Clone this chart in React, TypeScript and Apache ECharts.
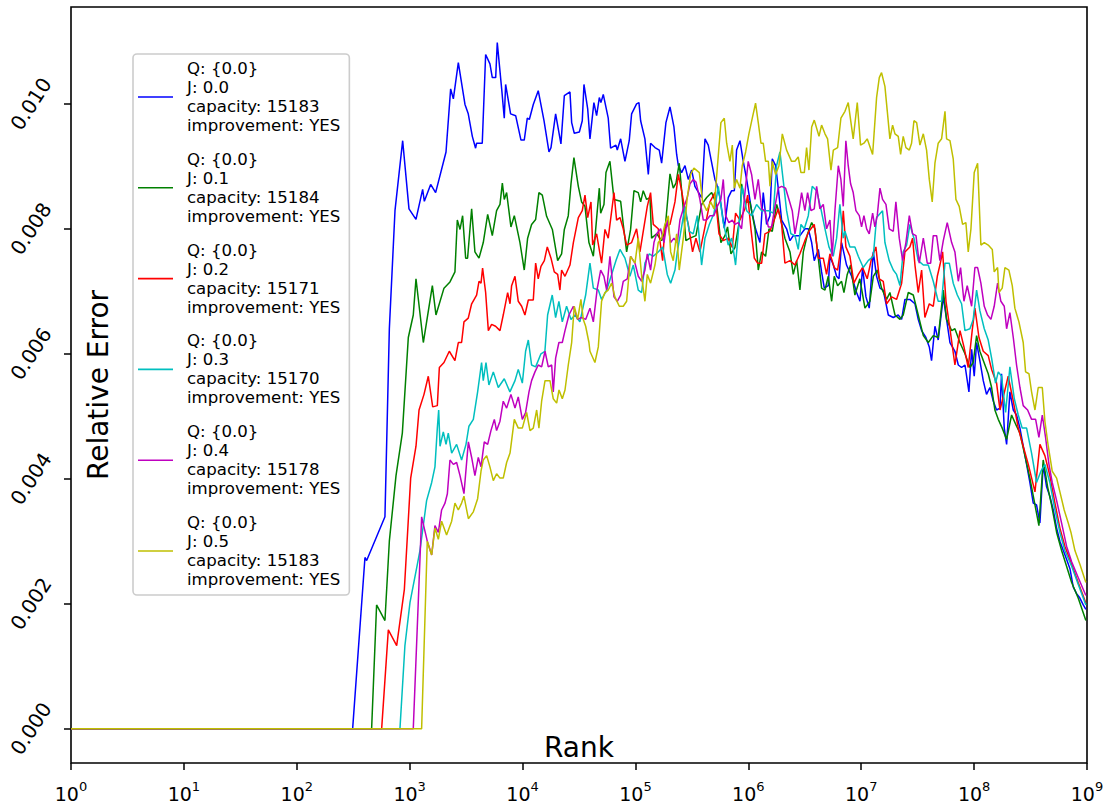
import React, { useEffect, useRef } from 'react';
import * as echarts from 'echarts';

// Legend fields
const qLabels = ['{0.0}', '{0.0}', '{0.0}', '{0.0}', '{0.0}', '{0.0}'];
const jValues = [0.0, 0.1, 0.2, 0.3, 0.4, 0.5];
const capacities = [15183, 15184, 15171, 15170, 15178, 15183];
const improvements = ['YES', 'YES', 'YES', 'YES', 'YES', 'YES'];
const colors = ['#0000ff', '#008000', '#ff0000', '#00bfbf', '#bf00bf', '#bfbf00'];

// Axis ticks
const xTickExponents = [0, 1, 2, 3, 4, 5, 6, 7, 8, 9];
const yTickValues = [0, 0.002, 0.004, 0.006, 0.008, 0.01];

// Each point: [log10(rank), relative error x 1000]; error is 0 from rank 1 to the first point
const seriesJ00: number[][] = [[2.495,0],[2.604,2.74],[2.619,2.69],[2.781,3.39],[2.820,6.40],[2.870,8.29],[2.938,9.41],[2.994,8.32],[3.056,8.15],[3.115,8.63],[3.130,8.44],[3.186,8.71],[3.230,8.58],[3.322,9.23],[3.363,10.24],[3.387,10.08],[3.431,10.66],[3.490,9.99],[3.519,9.84],[3.555,9.48],[3.584,9.29],[3.593,9.37],[3.643,9.37],[3.673,10.79],[3.711,10.64],[3.732,10.42],[3.762,10.42],[3.776,10.98],[3.815,10.24],[3.838,9.77],[3.850,10.31],[3.894,9.84],[3.939,9.81],[3.986,9.42],[4.015,9.42],[4.042,9.77],[4.060,9.75],[4.095,9.99],[4.139,10.21],[4.190,9.73],[4.234,9.23],[4.252,9.30],[4.293,9.84],[4.340,9.36],[4.370,10.13],[4.420,10.19],[4.435,9.70],[4.458,9.53],[4.503,9.55],[4.529,9.73],[4.544,10.31],[4.577,9.92],[4.597,9.44],[4.632,10.02],[4.656,9.81],[4.680,10.10],[4.694,10.02],[4.715,10.15],[4.759,9.77],[4.780,9.29],[4.827,9.34],[4.839,9.26],[4.869,9.44],[4.907,9.08],[4.945,9.41],[4.966,9.84],[5.010,10.00],[5.031,10.02],[5.046,9.73],[5.084,9.44],[5.114,8.87],[5.134,9.37],[5.173,9.30],[5.211,9.26],[5.232,9.05],[5.270,9.70],[5.306,9.95],[5.341,9.63],[5.365,9.19],[5.380,9.01],[5.409,8.90],[5.439,9.01],[5.468,8.79],[5.498,8.94],[5.527,8.68],[5.586,8.50],[5.616,9.44],[5.645,9.34],[5.704,8.79],[5.719,8.72],[5.749,8.50],[5.787,8.01],[5.822,8.50],[5.852,8.61],[5.876,8.61],[5.896,9.26],[5.926,9.41],[5.955,9.08],[5.985,8.79],[6.029,8.29],[6.064,8.00],[6.103,7.78],[6.132,8.58],[6.162,8.07],[6.191,8.21],[6.212,9.12],[6.242,9.01],[6.265,8.65],[6.295,8.14],[6.339,8.00],[6.369,7.81],[6.398,7.89],[6.457,7.89],[6.502,8.00],[6.531,8.00],[6.561,7.78],[6.584,7.49],[6.620,7.67],[6.649,7.31],[6.673,7.05],[6.708,7.09],[6.723,7.56],[6.753,7.42],[6.782,7.24],[6.803,7.20],[6.826,7.78],[6.870,7.42],[6.915,7.24],[6.959,6.98],[6.989,6.84],[7.012,7.38],[7.042,6.91],[7.071,6.73],[7.107,7.63],[7.136,7.24],[7.166,7.05],[7.195,7.02],[7.240,6.62],[7.284,6.58],[7.328,6.62],[7.358,6.55],[7.387,6.87],[7.431,6.87],[7.476,6.80],[7.505,6.55],[7.535,6.37],[7.573,6.26],[7.603,6.11],[7.623,5.89],[7.653,6.44],[7.682,6.22],[7.727,6.91],[7.756,6.55],[7.786,6.18],[7.830,6.04],[7.860,5.82],[7.889,5.78],[7.919,5.82],[7.954,5.39],[7.978,6.07],[8.001,5.64],[8.022,6.18],[8.051,5.89],[8.081,5.57],[8.110,5.35],[8.140,5.46],[8.170,5.24],[8.199,5.10],[8.229,5.13],[8.243,5.68],[8.267,4.81],[8.288,4.55],[8.317,5.39],[8.347,5.10],[8.376,5.02],[8.406,4.81],[8.435,4.52],[8.465,4.23],[8.494,3.94],[8.524,3.61],[8.553,3.58],[8.583,3.29],[8.612,4.23],[8.642,3.87],[8.671,3.72],[8.701,3.50],[8.731,3.21],[8.760,3.00],[8.790,2.85],[8.819,2.71],[8.849,2.56],[8.878,2.27],[8.908,2.16],[8.937,2.09],[8.967,1.98],[8.990,1.91]];

const seriesJ01: number[][] = [[2.663,0],[2.707,1.98],[2.781,1.73],[2.820,3.00],[2.879,4.05],[2.935,4.73],[2.988,6.26],[3.032,6.62],[3.056,7.20],[3.121,6.18],[3.201,7.09],[3.233,6.62],[3.304,7.05],[3.357,7.15],[3.401,7.31],[3.422,8.14],[3.446,7.99],[3.469,8.21],[3.496,7.53],[3.513,7.53],[3.549,8.32],[3.578,7.63],[3.614,7.53],[3.652,7.78],[3.691,8.23],[3.732,7.89],[3.770,8.29],[3.800,8.39],[3.821,8.73],[3.838,8.47],[3.859,8.58],[3.897,8.03],[3.927,8.21],[3.977,7.78],[4.015,7.34],[4.045,7.85],[4.080,8.07],[4.116,8.15],[4.145,8.58],[4.175,8.54],[4.213,8.20],[4.264,7.99],[4.311,7.49],[4.346,7.60],[4.370,7.99],[4.405,8.21],[4.429,8.72],[4.455,9.14],[4.494,8.68],[4.523,8.43],[4.553,8.36],[4.588,7.78],[4.627,7.56],[4.662,8.29],[4.680,8.65],[4.692,8.25],[4.721,8.39],[4.739,8.90],[4.774,9.08],[4.810,8.47],[4.869,8.44],[4.892,8.07],[4.922,7.63],[4.957,7.99],[4.987,8.61],[5.025,8.58],[5.046,8.43],[5.069,8.61],[5.099,8.47],[5.129,8.50],[5.143,7.85],[5.188,7.92],[5.232,7.81],[5.261,7.96],[5.306,8.88],[5.335,8.65],[5.359,8.73],[5.388,9.05],[5.418,8.43],[5.447,7.81],[5.483,7.85],[5.536,7.89],[5.586,8.39],[5.631,8.50],[5.675,8.58],[5.719,8.39],[5.757,7.78],[5.793,7.89],[5.816,8.03],[5.846,7.60],[5.881,7.70],[5.926,8.18],[5.940,8.72],[5.970,8.43],[6.014,8.43],[6.059,8.00],[6.088,7.34],[6.118,7.63],[6.153,7.56],[6.183,8.00],[6.212,7.96],[6.251,8.39],[6.280,8.21],[6.324,7.85],[6.369,7.63],[6.398,7.27],[6.428,7.49],[6.457,7.02],[6.487,7.63],[6.525,7.92],[6.561,8.10],[6.590,8.00],[6.620,7.53],[6.649,7.05],[6.679,7.02],[6.708,7.24],[6.738,6.84],[6.761,7.24],[6.791,7.09],[6.826,7.16],[6.847,6.98],[6.876,7.27],[6.906,7.42],[6.944,6.94],[6.988,7.20],[7.033,6.73],[7.077,6.84],[7.107,7.24],[7.142,7.34],[7.180,7.05],[7.225,6.87],[7.254,6.98],[7.299,6.62],[7.343,6.55],[7.372,6.62],[7.417,6.98],[7.461,6.94],[7.505,6.62],[7.550,6.29],[7.594,6.18],[7.638,6.29],[7.682,6.26],[7.727,7.02],[7.756,6.55],[7.801,6.37],[7.830,6.40],[7.874,6.18],[7.919,6.00],[7.963,5.78],[7.992,5.86],[8.022,6.29],[8.051,6.04],[8.096,5.82],[8.125,5.68],[8.155,5.46],[8.184,5.10],[8.214,4.95],[8.249,4.81],[8.288,4.63],[8.332,5.02],[8.376,4.84],[8.406,4.73],[8.450,4.37],[8.494,4.01],[8.539,3.58],[8.574,3.25],[8.612,4.30],[8.651,3.87],[8.686,3.58],[8.731,3.14],[8.775,2.85],[8.819,2.60],[8.864,2.34],[8.922,2.09],[8.990,1.73]];

const seriesJ02: number[][] = [[2.752,0],[2.811,1.58],[2.885,1.33],[2.953,2.23],[3.009,4.01],[3.056,4.52],[3.083,5.10],[3.127,5.35],[3.165,5.64],[3.204,5.15],[3.245,5.17],[3.263,5.78],[3.304,5.86],[3.351,6.04],[3.401,5.89],[3.431,6.18],[3.460,6.18],[3.481,6.51],[3.519,6.57],[3.549,6.80],[3.593,6.94],[3.614,7.16],[3.632,7.13],[3.646,7.37],[3.673,6.98],[3.697,6.37],[3.726,6.47],[3.761,6.44],[3.800,6.37],[3.829,6.62],[3.868,6.98],[3.889,6.80],[3.903,7.09],[3.933,7.24],[3.962,6.84],[3.992,6.76],[4.021,6.62],[4.051,6.86],[4.095,6.86],[4.116,7.45],[4.139,7.20],[4.163,7.40],[4.193,7.49],[4.219,7.71],[4.252,7.53],[4.281,7.31],[4.311,7.27],[4.331,7.02],[4.346,7.34],[4.376,7.24],[4.420,7.42],[4.450,7.78],[4.494,8.18],[4.529,8.29],[4.553,8.54],[4.577,8.18],[4.606,8.43],[4.621,7.74],[4.656,7.92],[4.700,7.45],[4.730,7.99],[4.759,7.85],[4.810,8.58],[4.833,8.14],[4.863,8.18],[4.892,8.00],[4.922,7.74],[4.966,7.78],[5.010,8.00],[5.040,7.63],[5.069,7.96],[5.105,8.36],[5.134,8.58],[5.158,8.07],[5.202,8.00],[5.241,7.49],[5.261,8.03],[5.306,8.07],[5.350,8.43],[5.380,8.87],[5.409,8.61],[5.439,8.29],[5.468,8.07],[5.506,7.63],[5.536,7.85],[5.571,7.63],[5.616,8.03],[5.660,8.43],[5.704,8.58],[5.740,7.92],[5.778,7.81],[5.822,7.85],[5.858,7.70],[5.887,8.25],[5.926,8.14],[5.970,8.32],[5.994,8.54],[6.023,8.00],[6.053,7.53],[6.082,7.45],[6.118,7.45],[6.147,7.92],[6.191,7.96],[6.221,8.10],[6.265,8.32],[6.295,8.07],[6.324,7.45],[6.369,7.49],[6.413,7.42],[6.457,7.60],[6.501,7.81],[6.537,7.96],[6.584,8.07],[6.620,7.53],[6.664,7.53],[6.693,7.27],[6.723,7.60],[6.761,7.38],[6.791,7.34],[6.820,7.71],[6.841,8.29],[6.864,7.71],[6.900,7.56],[6.935,7.13],[6.974,7.27],[7.012,7.38],[7.053,7.20],[7.092,7.53],[7.130,7.71],[7.160,7.20],[7.195,7.16],[7.225,6.80],[7.269,6.91],[7.313,6.87],[7.358,7.13],[7.387,7.63],[7.431,7.71],[7.455,7.85],[7.476,7.42],[7.505,6.98],[7.535,7.34],[7.564,6.58],[7.603,6.80],[7.638,6.76],[7.674,7.24],[7.697,7.42],[7.721,7.63],[7.751,6.84],[7.786,6.40],[7.830,5.82],[7.875,6.37],[7.910,6.11],[7.948,5.78],[7.983,6.37],[8.007,6.73],[8.043,6.26],[8.081,6.04],[8.125,5.97],[8.155,5.75],[8.199,5.53],[8.229,5.10],[8.273,5.42],[8.302,5.64],[8.347,5.24],[8.391,4.81],[8.435,4.52],[8.480,4.23],[8.539,3.79],[8.583,4.55],[8.627,4.37],[8.671,4.05],[8.716,3.61],[8.760,3.21],[8.804,2.92],[8.864,2.63],[8.922,2.34],[8.990,2.01]];

const seriesJ03: number[][] = [[2.914,0],[2.958,1.33],[3.003,2.02],[3.068,2.63],[3.091,2.85],[3.150,3.65],[3.195,3.94],[3.224,4.19],[3.245,4.81],[3.257,5.10],[3.269,4.52],[3.298,4.75],[3.322,4.55],[3.342,4.73],[3.372,4.41],[3.416,4.55],[3.460,4.30],[3.499,4.55],[3.525,4.84],[3.564,4.95],[3.602,5.39],[3.637,5.86],[3.652,5.57],[3.676,5.86],[3.702,5.50],[3.741,5.71],[3.785,5.46],[3.838,5.60],[3.888,5.39],[3.933,5.57],[3.962,5.75],[3.998,5.53],[4.027,6.04],[4.051,6.22],[4.080,5.82],[4.116,5.79],[4.163,6.00],[4.198,6.04],[4.222,6.62],[4.263,6.94],[4.293,6.58],[4.322,6.84],[4.352,6.51],[4.390,6.76],[4.429,6.55],[4.464,6.62],[4.508,6.51],[4.559,6.94],[4.597,7.45],[4.627,7.05],[4.671,7.02],[4.700,6.87],[4.745,7.02],[4.789,7.27],[4.827,7.49],[4.863,7.67],[4.907,7.53],[4.951,7.24],[4.981,7.42],[5.025,7.02],[5.055,6.98],[5.084,7.45],[5.123,7.60],[5.158,7.56],[5.202,7.63],[5.241,7.71],[5.282,7.27],[5.312,7.13],[5.350,7.34],[5.371,7.63],[5.409,8.03],[5.439,8.36],[5.477,7.96],[5.512,7.92],[5.548,8.21],[5.586,7.42],[5.616,7.85],[5.654,8.07],[5.696,8.25],[5.734,8.68],[5.778,8.10],[5.822,7.74],[5.852,7.85],[5.887,7.42],[5.917,8.07],[5.946,8.68],[5.985,8.29],[6.029,8.21],[6.073,8.39],[6.118,8.29],[6.177,8.29],[6.221,8.25],[6.250,9.01],[6.280,9.23],[6.310,8.76],[6.339,8.29],[6.377,7.92],[6.413,7.89],[6.442,7.67],[6.466,8.07],[6.496,8.00],[6.531,8.21],[6.566,8.68],[6.605,8.61],[6.643,8.32],[6.679,8.00],[6.714,7.71],[6.752,7.56],[6.782,7.85],[6.811,8.39],[6.841,7.85],[6.856,7.96],[6.900,7.71],[6.944,7.71],[6.974,7.56],[7.018,7.38],[7.062,7.49],[7.107,7.56],[7.136,8.18],[7.189,8.29],[7.210,7.78],[7.248,7.49],[7.284,7.34],[7.313,7.27],[7.343,7.09],[7.372,7.63],[7.402,7.74],[7.431,8.07],[7.467,7.85],[7.505,7.49],[7.550,7.42],[7.594,7.42],[7.638,7.16],[7.682,6.84],[7.712,6.84],[7.742,7.45],[7.780,7.45],[7.815,7.13],[7.851,6.94],[7.889,6.80],[7.919,6.37],[7.963,6.40],[7.992,6.55],[8.022,7.02],[8.051,6.69],[8.090,6.40],[8.125,6.22],[8.155,5.93],[8.190,5.53],[8.214,5.71],[8.243,5.64],[8.279,5.06],[8.317,5.79],[8.356,5.28],[8.391,5.02],[8.426,4.81],[8.465,4.81],[8.509,4.41],[8.553,3.94],[8.592,4.12],[8.627,4.23],[8.671,3.94],[8.716,3.50],[8.760,3.14],[8.804,2.85],[8.864,2.60],[8.922,2.31],[8.990,1.98]];

const seriesJ04: number[][] = [[3.032,0],[3.106,3.39],[3.156,3.00],[3.195,2.78],[3.224,3.25],[3.254,3.14],[3.283,3.50],[3.313,3.61],[3.334,3.76],[3.357,4.30],[3.387,4.23],[3.416,4.26],[3.446,4.05],[3.481,3.76],[3.520,4.59],[3.549,4.34],[3.578,4.05],[3.608,4.34],[3.632,4.19],[3.661,4.59],[3.691,4.55],[3.720,4.77],[3.750,4.95],[3.770,4.77],[3.800,4.92],[3.829,5.24],[3.859,5.13],[3.897,5.35],[3.933,5.13],[3.962,5.31],[3.998,4.95],[4.027,5.06],[4.057,5.39],[4.080,5.57],[4.110,5.71],[4.139,5.82],[4.169,5.79],[4.199,6.04],[4.228,5.79],[4.258,5.82],[4.272,5.39],[4.293,5.93],[4.322,6.18],[4.352,6.18],[4.376,6.37],[4.411,6.62],[4.450,6.76],[4.488,6.55],[4.523,6.58],[4.559,6.55],[4.597,6.73],[4.627,6.51],[4.662,7.05],[4.692,7.34],[4.721,7.24],[4.745,7.02],[4.774,7.56],[4.810,6.91],[4.839,6.84],[4.869,6.94],[4.892,7.16],[4.928,7.20],[4.957,7.56],[4.996,7.45],[5.025,7.24],[5.055,7.16],[5.084,7.34],[5.105,7.60],[5.134,7.34],[5.164,7.78],[5.188,7.92],[5.223,8.00],[5.253,7.78],[5.282,8.14],[5.312,7.78],[5.341,7.85],[5.371,7.78],[5.394,8.14],[5.424,8.32],[5.459,8.50],[5.483,8.72],[5.512,8.79],[5.536,8.75],[5.571,8.47],[5.601,8.14],[5.630,8.14],[5.660,8.21],[5.695,8.21],[5.725,8.36],[5.757,8.47],[5.778,8.79],[5.799,8.21],[5.828,8.10],[5.858,8.14],[5.881,8.07],[5.911,8.10],[5.940,8.00],[5.970,8.58],[5.999,9.08],[6.029,8.87],[6.059,8.47],[6.088,8.79],[6.118,8.32],[6.147,8.29],[6.177,8.03],[6.206,8.03],[6.236,8.36],[6.265,8.65],[6.295,8.68],[6.330,8.65],[6.360,8.47],[6.389,8.29],[6.413,7.92],[6.442,8.21],[6.472,8.58],[6.501,8.29],[6.525,8.58],[6.555,8.29],[6.584,8.32],[6.605,8.68],[6.634,8.32],[6.664,8.39],[6.693,8.00],[6.723,8.14],[6.743,7.56],[6.767,8.29],[6.797,9.01],[6.820,8.79],[6.841,8.36],[6.864,9.41],[6.885,9.01],[6.906,8.72],[6.929,8.58],[6.953,8.29],[6.983,8.21],[7.003,8.03],[7.024,8.21],[7.048,8.00],[7.071,7.92],[7.101,8.25],[7.121,8.03],[7.142,8.21],[7.166,8.65],[7.189,8.47],[7.219,8.39],[7.248,8.00],[7.284,7.96],[7.307,8.43],[7.337,7.85],[7.367,7.49],[7.396,7.78],[7.426,8.21],[7.455,7.92],[7.485,7.89],[7.514,7.45],[7.550,7.85],[7.585,7.45],[7.615,7.45],[7.638,7.89],[7.668,7.89],[7.697,7.49],[7.727,7.81],[7.762,8.10],[7.801,7.78],[7.830,7.63],[7.860,7.16],[7.880,7.38],[7.910,6.84],[7.939,7.09],[7.978,6.76],[8.007,7.38],[8.031,7.38],[8.060,7.13],[8.090,6.76],[8.119,6.62],[8.149,6.55],[8.178,6.76],[8.208,7.13],[8.237,6.84],[8.267,6.76],[8.288,6.40],[8.317,6.66],[8.347,6.26],[8.376,5.82],[8.406,5.46],[8.435,5.17],[8.474,5.10],[8.509,4.95],[8.545,4.95],[8.574,4.66],[8.604,5.02],[8.633,4.66],[8.663,4.23],[8.692,3.94],[8.731,3.65],[8.775,3.29],[8.819,2.92],[8.864,2.67],[8.922,2.42],[8.990,2.13]];

const seriesJ05: number[][] = [[3.106,0],[3.156,3.00],[3.195,2.78],[3.224,3.21],[3.254,3.03],[3.283,3.32],[3.327,3.10],[3.372,3.32],[3.401,3.61],[3.431,3.50],[3.460,3.61],[3.481,3.72],[3.520,3.36],[3.564,3.47],[3.602,3.68],[3.632,4.12],[3.652,4.30],[3.682,4.37],[3.711,4.19],[3.741,3.97],[3.770,4.08],[3.800,4.01],[3.829,4.01],[3.859,4.26],[3.889,4.41],[3.927,4.95],[3.962,4.81],[3.998,4.81],[4.036,5.06],[4.066,4.77],[4.095,4.81],[4.125,5.10],[4.145,4.81],[4.169,5.24],[4.199,5.57],[4.243,5.57],[4.272,5.28],[4.302,5.21],[4.323,5.42],[4.352,5.28],[4.376,5.42],[4.405,5.82],[4.435,6.18],[4.458,6.76],[4.488,6.55],[4.517,6.87],[4.538,6.55],[4.559,6.44],[4.588,6.18],[4.597,6.04],[4.641,5.86],[4.671,6.11],[4.700,6.84],[4.730,6.98],[4.759,7.02],[4.789,7.13],[4.818,6.91],[4.857,6.76],[4.892,6.76],[4.922,6.84],[4.957,7.56],[4.996,7.45],[5.025,7.85],[5.055,7.24],[5.084,6.84],[5.105,7.27],[5.134,7.13],[5.173,7.42],[5.202,7.78],[5.232,7.85],[5.261,8.07],[5.291,8.21],[5.312,7.63],[5.335,7.49],[5.365,7.92],[5.388,7.34],[5.424,7.85],[5.459,8.50],[5.489,8.87],[5.518,8.97],[5.566,8.90],[5.595,8.43],[5.631,8.29],[5.666,8.43],[5.696,8.32],[5.725,8.97],[5.757,9.70],[5.787,9.77],[5.808,9.37],[5.837,9.08],[5.858,9.34],[5.876,8.65],[5.896,8.79],[5.926,8.65],[5.946,9.01],[5.976,9.23],[6.005,9.52],[6.035,9.77],[6.064,10.01],[6.088,9.70],[6.112,9.37],[6.132,9.37],[6.153,9.08],[6.177,9.08],[6.192,8.68],[6.212,9.08],[6.242,8.87],[6.271,9.01],[6.301,9.52],[6.339,9.26],[6.383,9.08],[6.413,9.08],[6.442,9.15],[6.466,8.90],[6.496,8.90],[6.516,9.30],[6.537,8.94],[6.561,9.63],[6.584,9.74],[6.626,9.48],[6.649,9.66],[6.679,9.52],[6.702,9.44],[6.732,8.94],[6.753,9.26],[6.791,9.30],[6.820,9.77],[6.856,9.88],[6.885,10.02],[6.929,9.44],[6.965,10.02],[6.994,9.34],[7.024,9.37],[7.053,9.44],[7.101,9.19],[7.136,10.10],[7.160,10.42],[7.180,10.50],[7.210,10.28],[7.231,9.88],[7.254,9.44],[7.278,9.66],[7.299,9.52],[7.328,9.48],[7.349,9.19],[7.372,9.48],[7.396,9.30],[7.426,9.26],[7.446,9.37],[7.467,9.73],[7.491,9.70],[7.520,9.34],[7.550,9.52],[7.579,9.26],[7.603,8.79],[7.629,8.43],[7.653,9.05],[7.682,9.37],[7.712,9.44],[7.742,9.88],[7.756,9.44],[7.786,9.41],[7.815,9.12],[7.839,8.47],[7.868,8.36],[7.898,8.07],[7.927,8.10],[7.948,7.63],[7.972,8.00],[8.001,8.90],[8.031,9.05],[8.060,7.74],[8.090,7.78],[8.125,7.74],[8.161,7.67],[8.178,7.31],[8.208,7.38],[8.220,6.98],[8.249,7.05],[8.273,7.38],[8.308,7.34],[8.338,7.09],[8.361,6.73],[8.397,6.51],[8.435,6.18],[8.456,5.71],[8.486,5.68],[8.509,5.39],[8.539,5.10],[8.568,5.46],[8.604,5.46],[8.627,4.92],[8.657,4.52],[8.692,4.12],[8.731,4.01],[8.760,3.79],[8.798,3.50],[8.834,3.29],[8.858,3.14],[8.893,2.85],[8.937,2.63],[8.990,2.34]];

const seriesPoints = [seriesJ00, seriesJ01, seriesJ02, seriesJ03, seriesJ04, seriesJ05];

const toData = (pts: number[][]) => [[1, 0], ...pts.map(([e, v]) => [Math.pow(10, e), v / 1000])];

const FONT = 'DejaVu Sans';

export default function App() {
  const ref = useRef<HTMLDivElement>(null);
  useEffect(() => {
    if (!ref.current) return;
    const chart = echarts.init(ref.current, null, { renderer: 'svg' });
    const series = seriesPoints.map((pts, i) => ({
      type: 'line',
      name: `Q: ${qLabels[i]}\nJ: ${jValues[i].toFixed(1)}\ncapacity: ${capacities[i]}\nimprovement: ${improvements[i]}`,
      data: toData(pts),
      symbol: 'none',
      showSymbol: false,
      lineStyle: { color: colors[i], width: 1.5 },
      itemStyle: { color: colors[i] },
      z: 2 + i * 0.01,
    }));
    chart.setOption({
      animation: false,
      textStyle: { fontFamily: FONT },
      grid: {
        left: 71, right: 25, top: 7, bottom: 44,
        outerBoundsMode: 'none',
        containLabel: false,
        show: true, borderColor: '#000', borderWidth: 1.6, backgroundColor: 'transparent',
      },
      legend: {
        orient: 'vertical',
        left: 133,
        top: 54,
        padding: [5, 9, 6, 5],
        icon: 'rect',
        itemWidth: 35,
        itemHeight: 1.6,
        itemGap: 14.8,
        selectedMode: false,
        backgroundColor: 'rgba(255,255,255,0.8)',
        borderColor: '#cccccc',
        borderWidth: 1.6,
        borderRadius: 4,
        textStyle: { fontFamily: FONT, fontSize: 16.6, lineHeight: 19, color: '#000', padding: [0, 0, 0, 9] },
        data: series.map((s) => s.name),
      },
      xAxis: {
        type: 'log',
        logBase: 10,
        min: 1,
        max: 1e9,
        name: 'Rank',
        nameLocation: 'middle',
        nameGap: -16,
        nameMoveOverlap: false,
        nameTextStyle: { fontFamily: FONT, fontSize: 28, color: '#000', verticalAlign: 'middle' },
        axisLine: { show: false, onZero: false },
        splitLine: { show: false },
        minorTick: { show: false },
        axisTick: {
          length: 7,
          lineStyle: { color: '#000', width: 1.5 },
          customValues: xTickExponents.map((e) => Math.pow(10, e)),
        },
        axisLabel: {
          customValues: xTickExponents.map((e) => Math.pow(10, e)),
          margin: 17,
          color: '#000',
          formatter: (v: number) => `{b|10}{s|${Math.round(Math.log10(v))}}`,
          rich: {
            b: { fontFamily: FONT, fontSize: 19, color: '#000', verticalAlign: 'bottom' },
            s: { fontFamily: FONT, fontSize: 13, color: '#000', verticalAlign: 'top', padding: [0, 0, 10, 0] },
          },
        },
      },
      yAxis: {
        type: 'value',
        min: -0.00055,
        max: 0.01155,
        name: 'Relative Error',
        nameLocation: 'middle',
        nameGap: -27,
        nameMoveOverlap: false,
        nameTextStyle: { fontFamily: FONT, fontSize: 28, color: '#000', verticalAlign: 'middle' },
        axisLine: { show: false, onZero: false },
        splitLine: { show: false },
        axisTick: {
          length: 7,
          lineStyle: { color: '#000', width: 1.5 },
          customValues: yTickValues,
        },
        axisLabel: {
          customValues: yTickValues,
          formatter: (v: number) => v.toFixed(3),
          rotate: 57,
          align: 'center',
          verticalAlign: 'middle',
          margin: 40,
          fontFamily: FONT,
          fontSize: 20,
          color: '#000',
        },
      },
      series,
    });
    return () => chart.dispose();
  }, []);
  return <div ref={ref} style={{ position: 'absolute', left: 0, top: 0, width: 1112, height: 807 }} />;
}
